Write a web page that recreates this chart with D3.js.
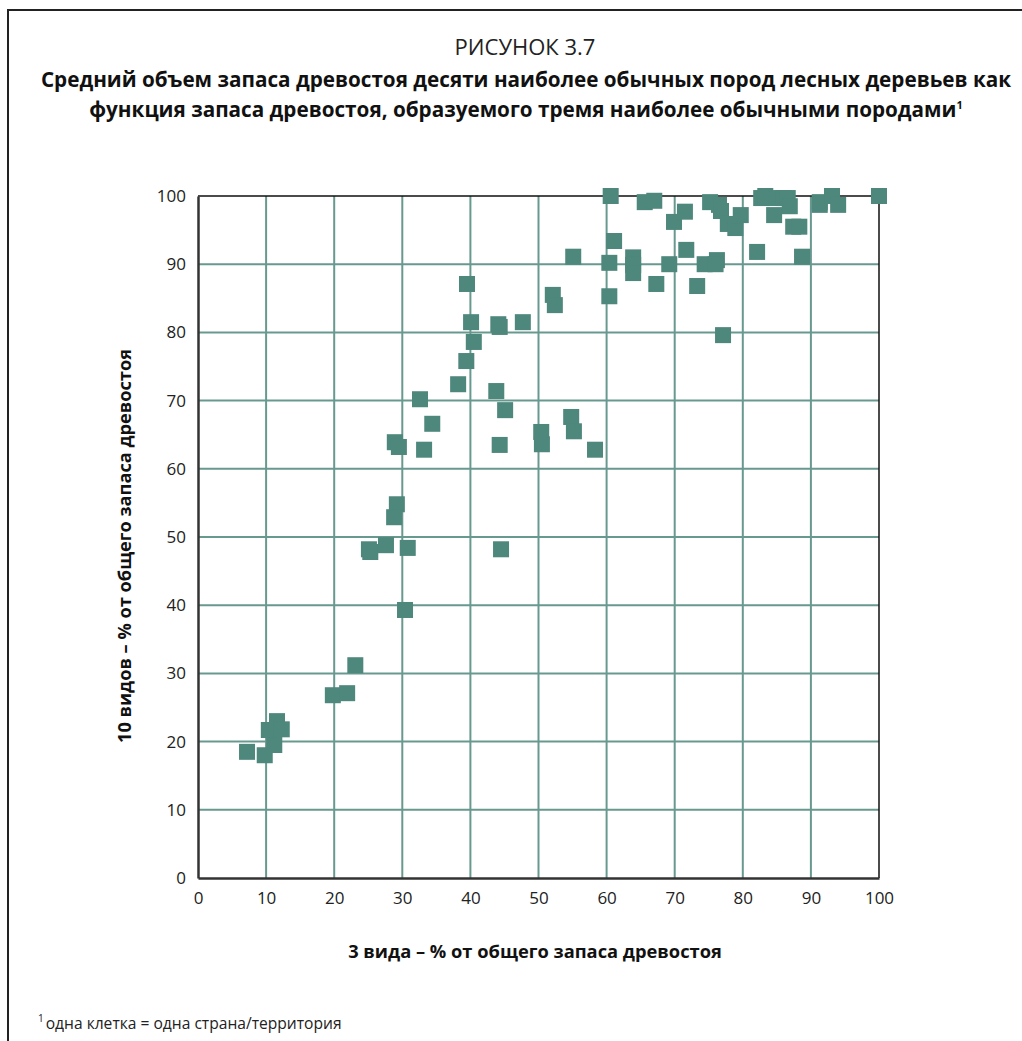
<!DOCTYPE html>
<html><head><meta charset="utf-8">
<script src="https://cdn.jsdelivr.net/npm/d3@7"></script>
<style>
html,body{margin:0;padding:0;background:#fff;}
svg{display:block;font-family:"Open Sans","DejaVu Sans",sans-serif;}
</style></head>
<body><svg id="chart" width="1022" height="1041"></svg>
<script>
// Data: x = 3 species % of total growing stock, y = 10 species % of total growing stock
const xValues = [7.2,9.8,10.4,11.2,11.6,12.3,19.8,21.9,23.1,30.4,25.1,25.3,27.6,30.8,44.5,29.2,28.8,28.9,29.5,33.2,44.3,32.6,34.4,38.2,43.8,45.1,39.4,40.5,40.1,44.1,44.3,47.7,39.5,50.4,50.5,54.8,55.2,58.3,52.1,52.4,60.4,55.1,60.4,61.1,60.6,63.9,63.9,63.9,65.6,67.0,67.3,69.2,69.9,71.5,71.7,73.3,74.4,76.2,76.0,75.2,76.5,76.8,77.1,77.8,78.9,79.7,82.1,82.7,83.3,84.6,84.7,86.0,86.6,86.9,87.4,88.3,88.7,91.3,91.3,93.1,94.0,100];
const yValues = [18.5,18.0,21.7,19.5,23.0,21.8,26.8,27.1,31.2,39.3,48.2,47.8,48.8,48.4,48.2,54.8,52.9,63.9,63.2,62.8,63.5,70.2,66.6,72.4,71.4,68.6,75.8,78.6,81.5,81.2,80.8,81.5,87.1,65.4,63.6,67.6,65.5,62.8,85.5,84.0,85.3,91.1,90.2,93.4,100,91.0,89.9,88.7,99.1,99.3,87.1,90.0,96.2,97.7,92.1,86.8,90.0,90.6,90.0,99.1,98.7,97.8,79.6,95.9,95.3,97.2,91.8,99.7,100,97.2,99.7,99.7,99.7,98.5,95.5,95.5,91.1,98.7,99.1,100,98.7,100];
const tickValues = [0,10,20,30,40,50,60,70,80,90,100];
const figureLabel = "РИСУНОК 3.7";
const titleLines = ["Средний объем запаса древостоя десяти наиболее обычных пород лесных деревьев как","функция запаса древостоя, образуемого тремя наиболее обычными породами"];
const xTitle = "3 вида – % от общего запаса древостоя";
const yTitle = "10 видов – % от общего запаса древостоя";
const footnote = "одна клетка = одна страна/территория";

const svg = d3.select("#chart");
const L = 198, R = 879, T = 196, B = 878;
const x = d3.scaleLinear().domain([0,100]).range([L,R]);
const y = d3.scaleLinear().domain([0,100]).range([B,T]);
const teal = "#4e877c";

// outer frame
svg.append("path").attr("d","M8,1041V10H1022").attr("fill","none").attr("stroke","#222").attr("stroke-width",2);

// titles
svg.append("text").attr("x",525).attr("y",55).attr("text-anchor","middle").attr("font-size",22).attr("fill","#222").text(figureLabel);
titleLines.forEach((t,i)=>{
  svg.append("text").attr("x",526).attr("y",87+i*30).attr("text-anchor","middle").attr("font-size",20.7).attr("font-weight","bold").attr("fill","#111").text(t)
    .each(function(){ if(i===1){ d3.select(this).append("tspan").attr("font-size",11).attr("dy",-8).text("1"); } });
});

// grid
const g = svg.append("g");
g.selectAll("line.vg").data(tickValues.slice(1,-1)).join("line")
  .attr("x1",d=>x(d)).attr("x2",d=>x(d)).attr("y1",T).attr("y2",B)
  .attr("stroke","#68998f").attr("stroke-width",2);
g.selectAll("line.hg").data(tickValues.slice(1,-1)).join("line")
  .attr("y1",d=>y(d)).attr("y2",d=>y(d)).attr("x1",L).attr("x2",R)
  .attr("stroke","#68998f").attr("stroke-width",2);
// top/right border
svg.append("path").attr("d",`M${L},${T}H${R}V${B}`).attr("fill","none").attr("stroke","#111").attr("stroke-width",1.5);

// axes
const xAxis = d3.axisBottom(x).tickValues(tickValues).tickSize(0).tickPadding(14);
const yAxis = d3.axisLeft(y).tickValues(tickValues).tickSize(0).tickPadding(12);
const gx = svg.append("g").attr("transform",`translate(0,${B})`).call(xAxis);
const gy = svg.append("g").attr("transform",`translate(${L},0)`).call(yAxis);
[gx,gy].forEach(a=>{
  a.select(".domain").attr("stroke","#333").attr("stroke-width",2.5);
  a.selectAll("text").attr("font-size",17).attr("fill","#222").attr("font-family","'Open Sans',sans-serif");
});

// points
const pts = xValues.map((v,i)=>[v,yValues[i]]);
const s = 16;
svg.append("g").selectAll("rect").data(pts).join("rect")
  .attr("x",d=>x(d[0])-s/2).attr("y",d=>y(d[1])-s/2).attr("width",s).attr("height",s)
  .attr("fill",teal);

// axis titles
svg.append("text").attr("x",535).attr("y",958).attr("text-anchor","middle").attr("font-size",18.3).attr("font-weight","bold").attr("fill","#111").text(xTitle);
svg.append("text").attr("transform","translate(131,546) rotate(-90)").attr("text-anchor","middle").attr("font-size",18.2).attr("font-weight","bold").attr("fill","#111").text(yTitle);

// footnote
const fn = svg.append("text").attr("x",38).attr("y",1029).attr("font-size",15.6).attr("fill","#222");
fn.append("tspan").attr("font-size",10).attr("dy",-7).text("1");
fn.append("tspan").attr("dy",7).attr("dx",2).text(footnote);
</script>
</body></html>
